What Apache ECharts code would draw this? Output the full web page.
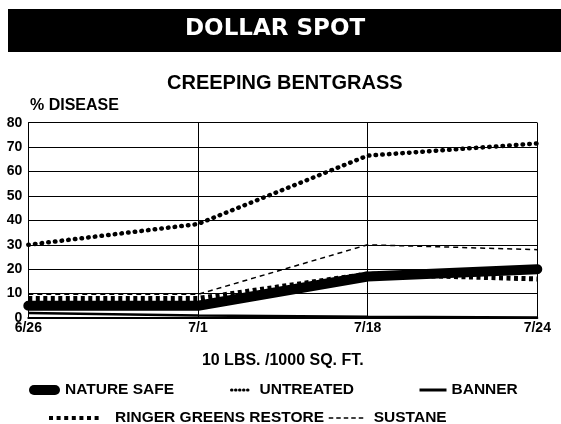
<!DOCTYPE html>
<html>
<head>
<meta charset="utf-8">
<script src="https://cdn.jsdelivr.net/npm/echarts@6/dist/echarts.min.js"></script>
<style>
  html, body { margin: 0; padding: 0; background: #fff; }
  #chart { width: 561px; height: 424px; }
</style>
</head>
<body>
<div id="chart"></div>
<script>
  // 观测日期
  var dates = ['6/26', '7/1', '7/18', '7/24'];
  // 各处理的发病率 (%)
  var natureSafe = [5, 5, 17, 20];
  var untreated = [30, 38.5, 66.5, 71.5];
  var banner = [2, 1, 0.5, 0.2];
  var ringer = [8, 8, 18, 16];
  var sustane = [9.7, 9.7, 30, 28];
  var yTicks = [0, 80, 10]; // min, max, interval

  var font = '"Liberation Sans", Arial, sans-serif';
  var black = '#000';

  /*单独一个图例项*/
  function legendItem(name, left, top, w, h, lineStyle, padLeft, icon) {
    var item = {
      data: [name],
      left: left,
      top: top,
      padding: 0,
      itemWidth: w,
      itemHeight: h,
      textStyle: {
        color: black, fontFamily: font, fontWeight: 'bold', fontSize: 15.5,
        padding: [0, 0, 0, padLeft || 0]
      }
    };
    if (icon) {
      item.icon = icon;
      item.itemStyle = {color: black};
    } else {
      item.lineStyle = lineStyle;
      item.itemStyle = {color: 'rgba(0,0,0,0)', borderWidth: 0, opacity: 0};
    }
    return item;
  }

  var myChart = echarts.init(document.getElementById('chart'));
  myChart.setOption({
    animation: false,
    backgroundColor: '#fff',
    color: [black, black, black, black, black],
    graphic: [
      {type: 'rect', shape: {x: 8, y: 9, width: 553, height: 43}, style: {fill: black}},
      {
        type: 'text', left: 287 - 102, top: 18,
        style: {text: 'DOLLAR SPOT', fill: '#fff', font: 'bold 23px "DejaVu Sans", Verdana, sans-serif'}
      },
      {
        type: 'text', left: 167, top: 73,
        style: {text: 'CREEPING BENTGRASS', fill: black, font: 'bold 20px ' + font}
      },
      {
        type: 'text', left: 30, top: 98,
        style: {text: '% DISEASE', fill: black, font: 'bold 16px ' + font}
      }
    ],
    grid: {left: 28.3, right: 23.7, top: 122.7, bottom: 106},
    legend: [
      legendItem('NATURE SAFE', 29, 382, 31, 11, null, 0,
        'path://M5,0 H26 A5,5 0 0 1 26,10 H5 A5,5 0 0 1 5,0 Z'),
      legendItem('UNTREATED', 230, 382, 20, 14, {width: 3, type: [0.5, 3.5], cap: 'round', color: black}, 3),
      legendItem('BANNER', 418, 382, 27, 14, {width: 3, type: 'solid', color: black}, 0),
      legendItem('RINGER GREENS RESTORE', 47, 410, 53, 14, {width: 4, type: [4, 3.6], cap: 'butt', color: black}, 8),
      legendItem('SUSTANE', 328, 410, 37, 14, {width: 1.5, type: [4.5, 3], color: black}, 3)
    ],
    xAxis: {
      type: 'category',
      data: dates,
      boundaryGap: false,
      name: '10 LBS. /1000 SQ. FT.',
      nameLocation: 'middle',
      nameGap: 35,
      nameTextStyle: {color: black, fontFamily: font, fontWeight: 'bold', fontSize: 16},
      axisLine: {lineStyle: {color: black, width: 2}},
      axisTick: {show: false},
      axisLabel: {color: black, fontFamily: font, fontWeight: 'bold', fontSize: 14, margin: 3},
      splitLine: {show: true, lineStyle: {color: black, width: 1}}
    },
    yAxis: {
      type: 'value',
      min: yTicks[0],
      max: yTicks[1],
      interval: yTicks[2],
      axisLine: {show: true, lineStyle: {color: black, width: 1}},
      axisTick: {show: false},
      axisLabel: {color: black, fontFamily: font, fontWeight: 'bold', fontSize: 14, margin: 6},
      splitLine: {show: true, lineStyle: {color: black, width: 1}}
    },
    series: [
      {
        name: 'BANNER', type: 'line', data: banner, symbol: 'none',
        itemStyle: {color: black},
        lineStyle: {color: black, width: 2.5}
      },
      {
        name: 'SUSTANE', type: 'line', data: sustane, symbol: 'none',
        itemStyle: {color: black},
        lineStyle: {color: black, width: 1.5, type: [5, 4]}
      },
      {
        name: 'NATURE SAFE', type: 'line', data: natureSafe, symbol: 'none',
        itemStyle: {color: black},
        lineStyle: {color: black, width: 10, cap: 'round', join: 'round'}
      },
      {
        name: 'RINGER GREENS RESTORE', type: 'line', data: ringer, symbol: 'none',
        itemStyle: {color: black},
        lineStyle: {color: black, width: 5, type: [4, 3.5], cap: 'butt'}
      },
      {
        name: 'UNTREATED', type: 'line', data: untreated, symbol: 'none',
        itemStyle: {color: black},
        lineStyle: {color: black, width: 4.5, type: [0.5, 6.2], cap: 'round'}
      }
    ]
  });
</script>
</body>
</html>
